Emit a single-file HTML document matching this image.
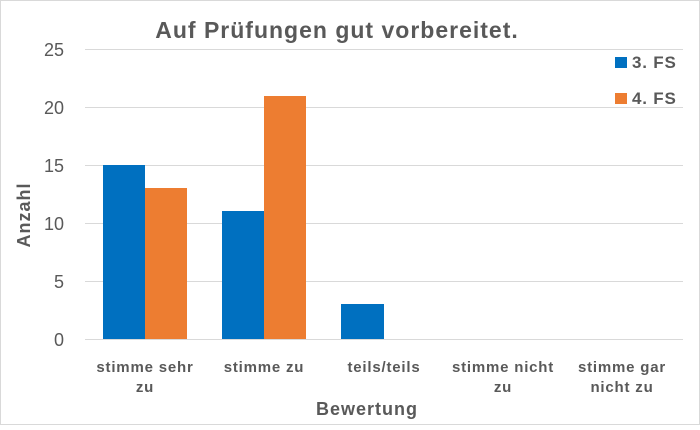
<!DOCTYPE html><html><head><style>body{margin:0}</style></head><body>
<svg width="700" height="425" xmlns="http://www.w3.org/2000/svg" font-family="Liberation Sans, sans-serif">
<rect x="0.5" y="0.5" width="699" height="424" fill="#fff" stroke="#d9d9d9"/>
<g stroke="#d9d9d9" stroke-width="1">
<line x1="85" x2="683" y1="49.5" y2="49.5"/><line x1="85" x2="683" y1="107.5" y2="107.5"/>
<line x1="85" x2="683" y1="165.5" y2="165.5"/><line x1="85" x2="683" y1="223.5" y2="223.5"/>
<line x1="85" x2="683" y1="281.5" y2="281.5"/><line x1="85" x2="683" y1="339.5" y2="339.5"/>
</g>
<g fill="#0070c0"><rect x="103" y="165" width="42" height="174"/><rect x="222" y="211" width="42" height="128"/><rect x="341" y="304" width="43" height="35"/></g>
<g fill="#ed7d31"><rect x="145" y="188" width="42" height="151"/><rect x="264" y="96" width="42" height="243"/></g>
<text x="337" y="38" text-anchor="middle" font-size="23" font-weight="bold" fill="#595959" letter-spacing="1">Auf Prüfungen gut vorbereitet.</text>
<g font-size="18" fill="#595959" text-anchor="end"><text x="64" y="56">25</text><text x="64" y="114">20</text><text x="64" y="172">15</text><text x="64" y="230">10</text><text x="64" y="288">5</text><text x="64" y="346">0</text></g>
<g font-size="15" font-weight="bold" fill="#595959" text-anchor="middle" letter-spacing="0.8">
<text x="145" y="372">stimme sehr</text><text x="145" y="392">zu</text>
<text x="264" y="372">stimme zu</text>
<text x="384" y="372">teils/teils</text>
<text x="503" y="372">stimme nicht</text><text x="503" y="392">zu</text>
<text x="622" y="372">stimme gar</text><text x="622" y="392">nicht zu</text>
</g>
<text x="367" y="415" text-anchor="middle" font-size="18" font-weight="bold" fill="#595959" letter-spacing="1">Bewertung</text>
<text transform="translate(30,215) rotate(-90)" text-anchor="middle" font-size="18" font-weight="bold" fill="#595959" letter-spacing="1">Anzahl</text>
<rect x="615" y="57" width="12" height="11" fill="#0070c0"/><rect x="615" y="93" width="12" height="11" fill="#ed7d31"/>
<g font-size="17" font-weight="bold" fill="#595959" letter-spacing="0.8"><text x="632" y="68">3. FS</text><text x="632" y="104">4. FS</text></g>
</svg></body></html>
